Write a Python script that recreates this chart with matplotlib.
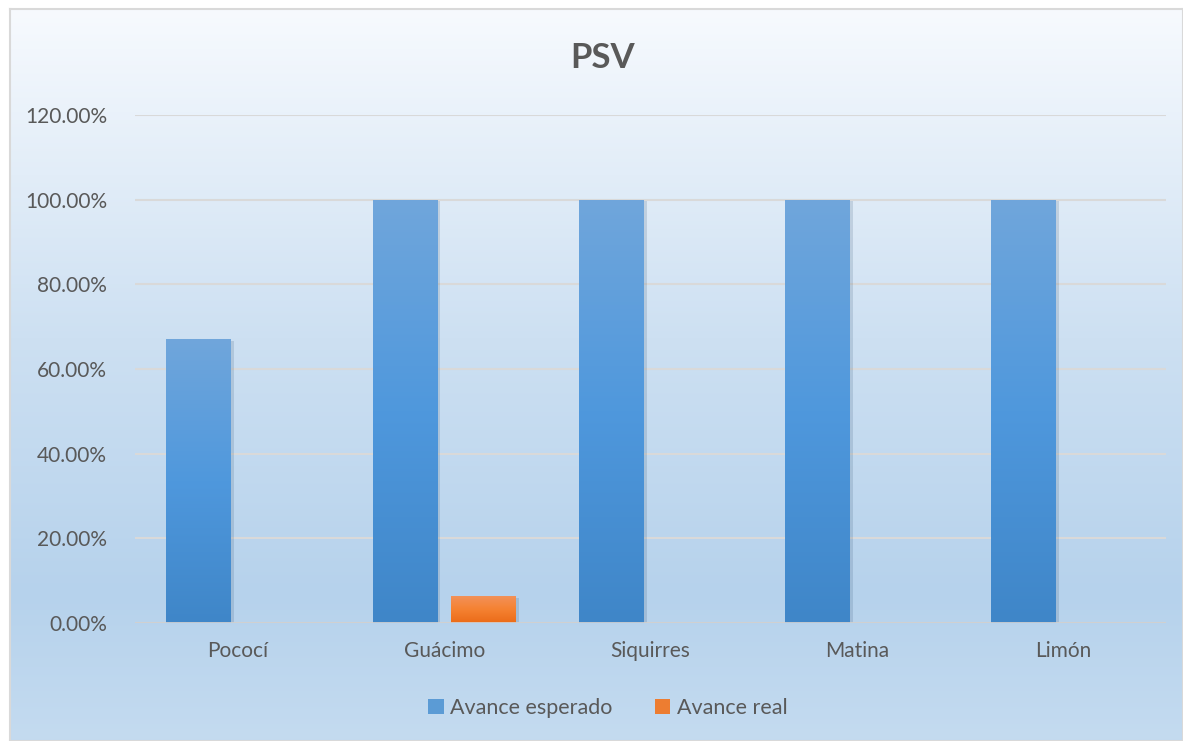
import matplotlib.pyplot as plt
import numpy as np
from matplotlib.colors import LinearSegmentedColormap
from matplotlib.patches import Rectangle

categories = ["Pococí", "Guácimo", "Siquirres", "Matina", "Limón"]
avance_esperado = [0.67, 1.00, 1.00, 1.00, 1.00]
avance_real = [0.0, 0.064, 0.0, 0.0, 0.0]
yticks = [0.0, 0.2, 0.4, 0.6, 0.8, 1.0, 1.2]

plt.rcParams['font.family'] = ['Lato', 'DejaVu Sans']
text_color = '#595959'

fig = plt.figure(figsize=(11.83, 7.41), dpi=100)
fig.patch.set_facecolor('white')

# chart area background with vertical gradient
bg = fig.add_axes([10/1183, 0, 1 - 10/1183, 1 - 9/741])
bg_cmap = LinearSegmentedColormap.from_list(
    'bg', [(0, '#C4DBF0'), (0.2, '#B6D2EC'), (0.55, '#CDE0F2'), (1.0, '#F7FAFE')])
bg.imshow(np.linspace(0, 1, 256).reshape(-1, 1), aspect='auto', cmap=bg_cmap,
          origin='lower', extent=[0, 1, 0, 1])
bg.set_xlim(0, 1)
bg.set_ylim(0, 1)
bg.set_xticks([])
bg.set_yticks([])
for s in bg.spines.values():
    s.set_color('#D9D9D9')
    s.set_linewidth(1.5)

ax = fig.add_axes([135/1183, 1 - 623/741, (1166 - 135)/1183, (623 - 115)/741])
ax.patch.set_alpha(0)

x = np.arange(len(categories))
w = 0.315
off = 0.19

blue_cmap = LinearSegmentedColormap.from_list('b', ['#3F86C8', '#4F98DD', '#70A6DB'])
orange_cmap = LinearSegmentedColormap.from_list('o', ['#EB6B18', '#F58232', '#F2925B'])

def grad_bars(xs, vals, cmap, solid, label):
    bars = ax.bar(xs, vals, w, color=solid, label=label, zorder=3, linewidth=0)
    grad = np.linspace(0, 1, 256).reshape(-1, 1)
    for b in bars:
        h = b.get_height()
        if h <= 0:
            continue
        # soft shadow
        ax.add_patch(Rectangle((b.get_x() + 0.014, 0), b.get_width(), h - 0.004,
                               color='#1F3F5F', alpha=0.15, zorder=2.5, lw=0))
        im = ax.imshow(grad, aspect='auto', cmap=cmap, origin='lower',
                       extent=[b.get_x(), b.get_x() + b.get_width(), 0, h], zorder=3.5)
        im.set_clip_path(b)
    return bars

grad_bars(x - off, avance_esperado, blue_cmap, '#5B9BD5', 'Avance esperado')
grad_bars(x + off, avance_real, orange_cmap, '#ED7D31', 'Avance real')

ax.set_xlim(-0.5, len(categories) - 0.5)
ax.set_ylim(0, 1.2)
ax.set_yticks(yticks)
ax.set_yticklabels([f"{v*100:.2f}%" for v in yticks])
ax.set_xticks(x)
ax.set_xticklabels(categories)
ax.yaxis.grid(True, color='#D9D9D9', linewidth=1.5, zorder=0)
ax.set_axisbelow(True)
ax.axhline(0, color='#D0D0D0', linewidth=2, zorder=4)
for s in ax.spines.values():
    s.set_visible(False)
ax.tick_params(axis='both', length=0, colors=text_color, labelsize=15)
ax.tick_params(axis='y', pad=20)
ax.tick_params(axis='x', pad=13)

fig.text(603/1183, 1 - 58/741, "PSV", ha='center', va='center', fontsize=25,
         fontweight='bold', color=text_color)

leg = fig.legend(loc='center', bbox_to_anchor=(608/1183, 1 - 708/741), ncol=2,
                 frameon=False, fontsize=15.5, handlelength=0.7, handleheight=0.7,
                 handletextpad=0.3, columnspacing=2.0)
for t in leg.get_texts():
    t.set_color(text_color)

fig.savefig('out.png', dpi=100)
